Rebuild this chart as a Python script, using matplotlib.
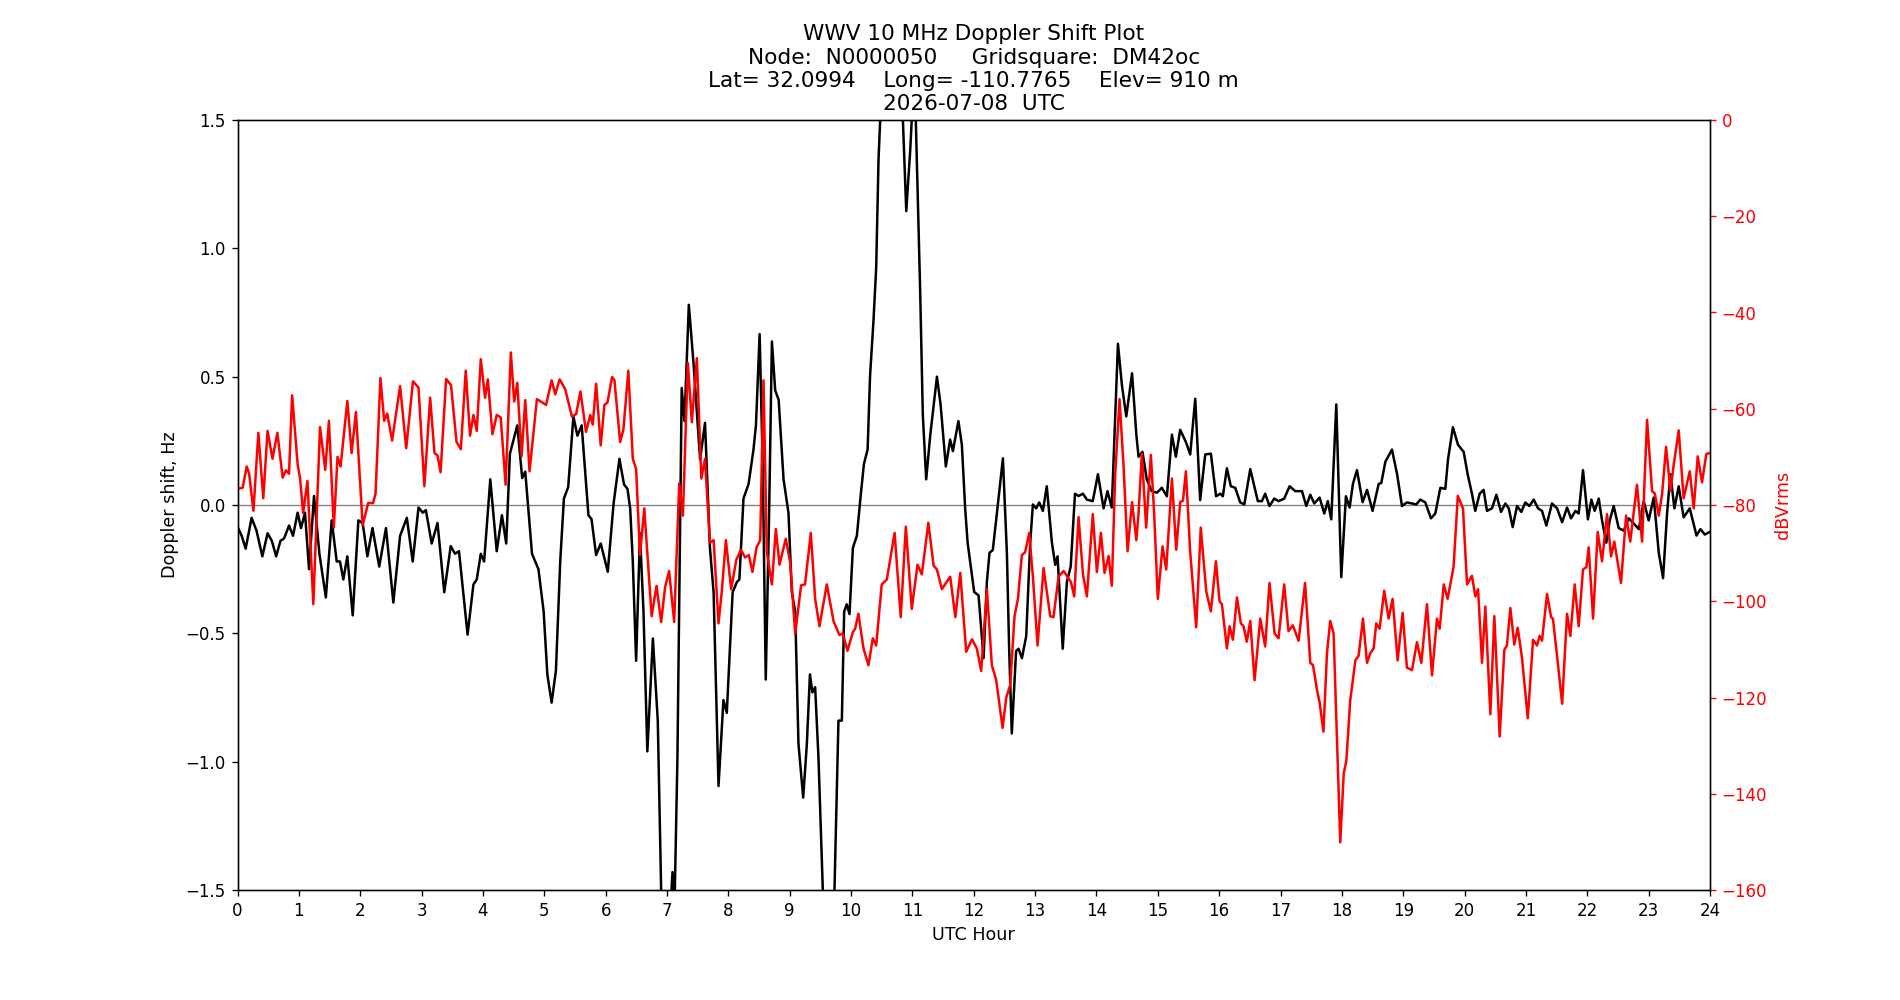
import matplotlib
matplotlib.use('Agg')
import matplotlib.pyplot as plt

## Doppler shift trace (UTC hour, Hz)
dop_hour = [0.01, 0.068, 0.133, 0.23, 0.31, 0.405, 0.49, 0.56, 0.63, 0.70, 0.76, 0.84, 0.905, 0.98,
            1.035, 1.10, 1.166, 1.247, 1.335, 1.44, 1.535, 1.617, 1.67, 1.725, 1.79, 1.878, 1.97,
            2.04, 2.117, 2.20, 2.31, 2.42, 2.54, 2.65, 2.76, 2.856, 2.95, 3.02, 3.07, 3.165, 3.26,
            3.37, 3.475, 3.546, 3.61, 3.75, 3.845, 3.90, 3.965, 4.02, 4.12, 4.225, 4.31, 4.38, 4.44,
            4.56, 4.64, 4.69, 4.80, 4.905, 4.99, 5.05, 5.12, 5.19, 5.26, 5.32, 5.39, 5.475, 5.54,
            5.61, 5.72, 5.77, 5.845, 5.92, 6.035, 6.13, 6.225, 6.30, 6.356, 6.40, 6.443, 6.497,
            6.56, 6.617, 6.68, 6.77, 6.85, 6.905, 6.97, 7.05, 7.09, 7.12, 7.17, 7.24, 7.285, 7.356,
            7.43, 7.54, 7.62, 7.70, 7.76, 7.84, 7.92, 7.975, 8.07, 8.14, 8.18, 8.247, 8.33, 8.41,
            8.45, 8.51, 8.56, 8.61, 8.665, 8.71, 8.764, 8.82, 8.90, 8.98, 9.035, 9.09, 9.143, 9.22,
            9.28, 9.33, 9.37, 9.415, 9.47, 9.54, 9.63, 9.73, 9.795, 9.85, 9.888, 9.93, 9.975, 10.03,
            10.095, 10.16, 10.21, 10.27, 10.31, 10.365, 10.41, 10.448, 10.475, 10.6, 10.80, 10.845,
            10.90, 10.965, 11.01, 11.05, 11.127, 11.17, 11.225, 11.29, 11.40, 11.46, 11.545, 11.615,
            11.66, 11.75, 11.806, 11.86, 11.90, 11.953, 12.007, 12.078, 12.16, 12.214, 12.257, 12.31,
            12.377, 12.475, 12.54, 12.578, 12.62, 12.69, 12.73, 12.785, 12.855, 12.92, 12.964, 13.018,
            13.067, 13.127, 13.19, 13.274, 13.328, 13.366, 13.45, 13.518, 13.58, 13.65, 13.708, 13.78,
            13.844, 13.94, 14.024, 14.116, 14.18, 14.25, 14.35, 14.416, 14.486, 14.58, 14.65, 14.686,
            14.75, 14.82, 14.90, 14.985, 15.066, 15.148, 15.23, 15.294, 15.365, 15.458, 15.528, 15.61,
            15.69, 15.773, 15.865, 15.95, 16.017, 16.06, 16.126, 16.19, 16.262, 16.343, 16.41, 16.507,
            16.63, 16.697, 16.75, 16.82, 16.898, 16.968, 17.06, 17.148, 17.24, 17.35, 17.42, 17.485,
            17.55, 17.637, 17.713, 17.77, 17.827, 17.909, 17.99, 18.066, 18.126, 18.18, 18.246,
            18.338, 18.41, 18.50, 18.60, 18.643, 18.708, 18.816, 18.90, 18.98, 19.06, 19.143, 19.213,
            19.278, 19.36, 19.452, 19.523, 19.605, 19.686, 19.73, 19.81, 19.892, 19.985, 20.05, 20.12,
            20.174, 20.246, 20.31, 20.365, 20.447, 20.518, 20.594, 20.665, 20.72, 20.784, 20.855,
            20.925, 20.99, 21.056, 21.127, 21.197, 21.262, 21.333, 21.425, 21.507, 21.59, 21.67,
            21.735, 21.806, 21.86, 21.93, 22.01, 22.067, 22.12, 22.187, 22.24, 22.31, 22.366, 22.43,
            22.512, 22.594, 22.675, 22.768, 22.84, 22.92, 23.0, 23.083, 23.165, 23.235, 23.30, 23.355,
            23.42, 23.49, 23.57, 23.67, 23.78, 23.844, 23.915, 23.996]
dop_hz = [-0.09, -0.12, -0.17, -0.05, -0.10, -0.20, -0.11, -0.14, -0.20, -0.14, -0.13, -0.08, -0.12, -0.03,
          -0.09, -0.03, -0.25, 0.035, -0.19, -0.36, -0.06, -0.22, -0.22, -0.29, -0.20, -0.43, -0.06,
          -0.07, -0.20, -0.09, -0.24, -0.09, -0.38, -0.12, -0.05, -0.22, -0.01, -0.03, -0.02, -0.15, -0.07,
          -0.34, -0.16, -0.19, -0.18, -0.505, -0.31, -0.29, -0.19, -0.22, 0.10, -0.18, -0.04, -0.15, 0.20,
          0.31, 0.105, 0.13, -0.19, -0.25, -0.415, -0.66, -0.77, -0.645, -0.22, 0.025, 0.07, 0.345, 0.27,
          0.31, -0.04, -0.055, -0.195, -0.15, -0.26, 0.006, 0.18, 0.08, 0.063, -0.013, -0.22, -0.607,
          -0.11, -0.415, -0.96, -0.52, -0.84, -1.50, -1.85, -1.6, -1.43, -1.6, -0.99, 0.456, 0.327, 0.78,
          0.56, 0.178, 0.32, -0.167, -0.34, -1.095, -0.76, -0.81, -0.34, -0.30, -0.29, 0.025, 0.082, 0.216,
          0.31, 0.666, 0.16, -0.68, -0.03, 0.637, 0.446, 0.41, 0.10, -0.03, -0.34, -0.415, -0.93, -1.14,
          -0.93, -0.66, -0.73, -0.71, -0.99, -1.5, -1.8, -1.5, -0.84, -0.84, -0.415, -0.387, -0.425, -0.167,
          -0.12, 0.044, 0.16, 0.216, 0.504, 0.714, 0.925, 1.346, 1.5, 1.9, 1.7, 1.5,
          1.145, 1.384, 1.6, 1.55, 0.83, 0.35, 0.10, 0.27, 0.50, 0.39, 0.15, 0.255,
          0.21, 0.327, 0.235, -0.013, -0.147, -0.243, -0.339, -0.352, -0.597, -0.30, -0.186, -0.176,
          -0.033, 0.182, -0.186, -0.569, -0.89, -0.569, -0.56, -0.597, -0.511, -0.147, 0.002, -0.013,
          0.01, -0.023, 0.073, -0.147, -0.233, -0.20, -0.56, -0.30, -0.24, 0.044, 0.035, 0.044,
          0.021, 0.015, 0.12, -0.013, 0.054, -0.01, 0.628, 0.465, 0.345, 0.513, 0.274, 0.188,
          0.207, 0.10, 0.054, 0.048, 0.067, 0.034, 0.274, 0.188, 0.293, 0.245, 0.197, 0.414,
          0.019, 0.197, 0.20, 0.034, 0.044, 0.034, 0.143, 0.073, 0.067, 0.01, 0.002, 0.14,
          0.015, 0.015, 0.044, -0.004, 0.025, 0.015, 0.025, 0.073, 0.054, 0.054, -0.004, 0.04,
          0.006, 0.029, -0.033, 0.015, -0.056, 0.392, -0.281, 0.034, -0.01, 0.082, 0.136,
          0.011, 0.059, -0.023, 0.082, 0.086, 0.168, 0.216, 0.12, -0.004, 0.01, 0.006, 0.002,
          0.021, 0.01, -0.052, -0.033, 0.067, 0.063, 0.178, 0.303, 0.235, 0.207, 0.12, 0.044,
          -0.023, 0.044, 0.059, -0.023, -0.013, 0.04, -0.027, 0.006, -0.013, -0.086, -0.004,
          -0.027, 0.01, -0.004, 0.021, -0.013, -0.023, -0.08, 0.006, -0.013, -0.067, -0.01,
          -0.052, -0.023, -0.033, 0.136, -0.056, 0.021, -0.023, 0.025, -0.06, -0.147, -0.06, -0.004,
          -0.09, -0.10, -0.052, -0.075, -0.094, 0.015, -0.06, 0.029, -0.186, -0.285, -0.033, 0.12,
          -0.013, 0.073, -0.048, -0.013, -0.119, -0.094, -0.115, -0.105]

## Received signal level trace (UTC hour, dBVrms)
pwr_hour = [0.01, 0.084, 0.15, 0.19, 0.26, 0.34, 0.42, 0.49, 0.57, 0.65, 0.736, 0.79, 0.84, 0.89,
            0.98, 1.02, 1.07, 1.14, 1.236, 1.345, 1.43, 1.49, 1.57, 1.63, 1.68, 1.79, 1.86, 1.93,
            2.04, 2.13, 2.21, 2.25, 2.33, 2.39, 2.44, 2.52, 2.65, 2.75, 2.86, 2.95, 3.046, 3.14,
            3.21, 3.26, 3.31, 3.40, 3.48, 3.57, 3.64, 3.72, 3.79, 3.845, 3.90, 3.965, 4.035, 4.08,
            4.155, 4.225, 4.29, 4.37, 4.455, 4.51, 4.56, 4.63, 4.69, 4.76, 4.88, 5.03, 5.12, 5.18,
            5.25, 5.34, 5.45, 5.52, 5.59, 5.68, 5.75, 5.79, 5.845, 5.92, 5.98, 6.03, 6.105, 6.144,
            6.236, 6.29, 6.37, 6.443, 6.497, 6.56, 6.63, 6.75, 6.83, 6.905, 6.97, 7.035, 7.117, 7.20,
            7.26, 7.34, 7.405, 7.487, 7.56, 7.62, 7.70, 7.76, 7.84, 7.893, 7.96, 8.046, 8.13, 8.204,
            8.274, 8.334, 8.393, 8.46, 8.52, 8.573, 8.627, 8.71, 8.774, 8.834, 8.936, 9.007, 9.09,
            9.186, 9.25, 9.344, 9.415, 9.485, 9.605, 9.714, 9.81, 9.866, 9.942, 10.03, 10.067, 10.12,
            10.203, 10.284, 10.355, 10.41, 10.50, 10.583, 10.71, 10.81, 10.893, 10.99, 11.083, 11.154,
            11.26, 11.345, 11.40, 11.48, 11.616, 11.70, 11.78, 11.877, 11.97, 12.05, 12.121, 12.214,
            12.295, 12.366, 12.47, 12.53, 12.594, 12.665, 12.72, 12.784, 12.838, 12.904, 12.964, 13.04,
            13.138, 13.246, 13.30, 13.382, 13.464, 13.584, 13.638, 13.708, 13.78, 13.844, 13.94,
            14.007, 14.073, 14.132, 14.197, 14.25, 14.306, 14.376, 14.44, 14.507, 14.58, 14.65,
            14.686, 14.74, 14.81, 14.887, 14.94, 15.0, 15.077, 15.137, 15.23, 15.30, 15.365, 15.41,
            15.458, 15.528, 15.626, 15.70, 15.79, 15.865, 15.947, 16.006, 16.045, 16.126, 16.17,
            16.224, 16.29, 16.354, 16.398, 16.45, 16.507, 16.577, 16.67, 16.75, 16.82, 16.903, 16.968,
            17.06, 17.13, 17.20, 17.295, 17.40, 17.485, 17.53, 17.594, 17.637, 17.70, 17.757, 17.81,
            17.865, 17.92, 17.974, 18.03, 18.072, 18.137, 18.22, 18.273, 18.344, 18.41, 18.463,
            18.518, 18.56, 18.615, 18.69, 18.762, 18.827, 18.909, 18.99, 19.06, 19.143, 19.224,
            19.295, 19.387, 19.469, 19.55, 19.594, 19.66, 19.724, 19.82, 19.89, 19.974, 20.04, 20.12,
            20.175, 20.22, 20.284, 20.338, 20.42, 20.485, 20.572, 20.648, 20.69, 20.746, 20.81,
            20.866, 20.936, 21.03, 21.116, 21.18, 21.224, 21.262, 21.344, 21.41, 21.44, 21.507,
            21.59, 21.67, 21.724, 21.795, 21.86, 21.93, 21.985, 22.023, 22.094, 22.17, 22.24, 22.322,
            22.387, 22.44, 22.55, 22.632, 22.70, 22.81, 22.893, 22.974, 23.056, 23.1, 23.165, 23.22,
            23.284, 23.355, 23.41, 23.49, 23.57, 23.67, 23.735, 23.80, 23.87, 23.94, 23.996]
pwr_db = [-76.6, -76.4, -72, -73.5, -81.2, -65, -78.6, -64.6, -70.4, -65, -74.3, -72.8, -73.5, -57.2,
          -71.5, -74.5, -81.7, -75, -100.6, -63.8, -72.7, -62.5, -84.7, -70, -72, -58.4, -69.2, -60.7,
          -84.2, -79.6, -79.6, -77.6, -53.6, -62.5, -61, -66.6, -55.3, -68.2, -54.3, -55.6, -76.1, -57.7,
          -69.2, -69.7, -73.2, -53.8, -55.1, -66.9, -68.4, -52.1, -65.6, -61.3, -64.6, -49.7, -57.7, -53.9,
          -65.3, -61.3, -61.8, -75.8, -48.3, -58.5, -54.6, -69.9, -58.2, -73, -58, -59.2, -54.1, -57,
          -53.9, -55.9, -61.6, -61.1, -56.4, -64.8, -61.3, -63.3, -54.8, -67.6, -59.2, -58.7, -53.4, -54.1,
          -66.9, -64.3, -52.1, -70.4, -72.5, -90.4, -80.7, -103.1, -96.8, -104.3, -97, -93.7, -104.3, -75.5,
          -82.2, -50.5, -62.8, -49.5, -74.5, -70.4, -87.8, -87.3, -104.6, -98, -87.3, -97.5, -91.4, -89.3,
          -90.9, -90.4, -93.9, -88.8, -87.3, -54.1, -89.8, -96.5, -85, -92.4, -87, -91.9, -106.7,
          -96.7, -96.5, -85.8, -99.5, -105.2, -96.5, -104.1, -107, -106.7, -110.3, -106.4, -105.7, -102.6,
          -109.8, -113.3, -107.7, -109.2, -96.5, -95.5, -85.8, -103.3, -84.5, -101.6, -92.4, -94.4,
          -83.7, -92.6, -93.4, -97.5, -94.9, -103.3, -94.1, -110.5, -107.9, -109.8, -114.5, -97.5,
          -113.3, -116.4, -126.3, -120, -117.4, -103.1, -99.5, -90.4, -89.8, -85.8, -94.9, -109.2,
          -93.1, -103.1, -103.3, -94.9, -93.7, -96, -99, -82.5, -94.4, -99, -81.9,
          -93.9, -85.8, -94.1, -90.6, -96.8, -73.5, -58, -71.5, -89.6, -79.4, -87.3,
          -81.7, -69.4, -84.7, -69.6, -81.7, -99.5, -88.6, -93.4, -74.5, -89.3, -79.4, -79.1,
          -73, -89.8, -105.4, -84.7, -98, -102.1, -91.7, -100, -100.6, -109.8, -105.2,
          -108, -99.2, -104.6, -105.2, -108.4, -104.1, -116.4, -103.6, -109.4, -96.2, -106.7, -107.7,
          -96.5, -106.2, -105, -108.2, -96.2, -112.8, -113.3, -118.4, -121, -127.1, -110.8, -104.1,
          -106.7, -128.6, -150.1, -135.8, -133.2, -120.5, -112.3, -111.3, -103.6, -112.8, -110.8,
          -109.8, -104.6, -105.7, -97.8, -103.6, -99.5, -112.3, -102.4, -113.8, -114.3, -108.5,
          -112.8, -100.6, -115.4, -103.6, -105.7, -96.5, -99.5, -92.9, -78.1, -80.7, -96.5, -94.7,
          -99, -97.5, -112.8, -101.1, -123.5, -103.1, -128.1, -110.1, -109.2, -101.4, -109,
          -105.5, -111.8, -124.3, -108, -109.2, -107.2, -108.2, -98.5, -103.3, -103.6, -111.3,
          -121.3, -102.6, -107.2, -96.5, -105.2, -93.4, -92.9, -88.8, -103.6, -85.6, -91.7, -81.9,
          -90.7, -87.6, -96.2, -82.2, -87.6, -75.8, -87.6, -62.3, -77.1, -77.6, -82.2, -77.6,
          -67.9, -77.1, -71.5, -64.5, -78.6, -73, -80.7, -69.9, -75.3, -69.4, -69.2]

hour_ticks = list(range(0, 25))

title_text = ("WWV 10 MHz Doppler Shift Plot\n"
              "Node:  N0000050     Gridsquare:  DM42oc\n"
              "Lat= 32.0994    Long= -110.7765    Elev= 910 m\n"
              "2026-07-08  UTC")

fig, ax1 = plt.subplots(figsize=(19/1.2, 10/1.2), dpi=120)

## zero reference line, then the doppler trace
ax1.axhline(0, color='grey', linewidth=0.8)
ax1.plot(dop_hour, dop_hz, 'k', linewidth=1.5)
ax1.set_xlim(0, 24)
ax1.set_ylim(-1.5, 1.5)
ax1.set_xticks(hour_ticks)
ax1.set_xlabel('UTC Hour', fontsize=10.5)
ax1.set_ylabel('Doppler shift, Hz', fontsize=10.5)
ax1.set_title(title_text, fontsize=13)

## signal power on the right hand axis
ax2 = ax1.twinx()
ax2.plot(pwr_hour, pwr_db, 'r', linewidth=1.5)
ax2.set_ylim(-160, 0)
ax2.set_ylabel('dBVrms', color='r', fontsize=10.5)
ax2.tick_params(axis='y', colors='r')

plt.savefig('out.png')
plt.close()
